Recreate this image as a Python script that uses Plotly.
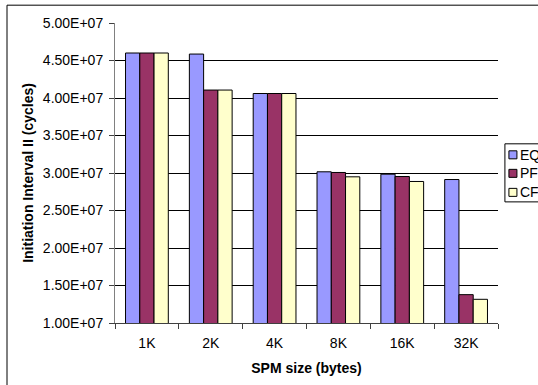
import plotly.graph_objects as go

categories = ["1K", "2K", "4K", "8K", "16K", "32K"]
eq_values = [4.60e7, 4.586e7, 4.06e7, 3.016e7, 2.984e7, 2.913e7]
pf_values = [4.60e7, 4.106e7, 4.06e7, 3.007e7, 2.953e7, 1.378e7]
cf_values = [4.60e7, 4.106e7, 4.06e7, 2.949e7, 2.887e7, 1.316e7]
series_names = ["EQ", "PF", "CF"]
y_ticks = [1.0e7, 1.5e7, 2.0e7, 2.5e7, 3.0e7, 3.5e7, 4.0e7, 4.5e7, 5.0e7]
y_tick_labels = ["1.00E+07", "1.50E+07", "2.00E+07", "2.50E+07", "3.00E+07",
                 "3.50E+07", "4.00E+07", "4.50E+07", "5.00E+07"]

colors = ["#9999FF", "#993366", "#FFFFCC"]
FONT = "Liberation Sans, Arial, sans-serif"
FS = 14

fig = go.Figure()
for name, vals, col in zip(series_names, [eq_values, pf_values, cf_values], colors):
    fig.add_trace(go.Bar(
        x=categories, y=vals, name=name,
        marker=dict(color=col, line=dict(color="#000000", width=1)),
    ))

W, H = 538, 385
ml, mr, mt, mb = 115.3, 40.4, 23.3, 62
pw = W - ml - mr
ph = H - mt - mb

def px_x(px):
    return (px - ml) / pw

def px_y(py):
    return (H - mb - py) / ph

shapes = [dict(
    type="rect", xref="paper", yref="paper",
    x0=px_x(7.5), x1=px_x(560), y0=px_y(386), y1=px_y(5.5),
    line=dict(color="#000000", width=1), fillcolor="rgba(0,0,0,0)", layer="above",
)]
# legend box
shapes.append(dict(
    type="rect", xref="paper", yref="paper",
    x0=px_x(504.5), x1=px_x(560), y0=px_y(202), y1=px_y(144),
    line=dict(color="#000000", width=1), fillcolor="white", layer="above",
))
annotations = []
row_centers = [155, 173.5, 192.5]
for name, col, cy in zip(series_names, colors, row_centers):
    shapes.append(dict(
        type="rect", xref="paper", yref="paper",
        x0=px_x(508.5), x1=px_x(516.5), y0=px_y(cy + 4), y1=px_y(cy - 4),
        line=dict(color="#000000", width=1), fillcolor=col, layer="above",
    ))
    annotations.append(dict(
        x=px_x(517.5), y=px_y(cy), xref="paper", yref="paper",
        xanchor="left", yanchor="middle", showarrow=False,
        text=name, font=dict(family=FONT, size=FS, color="#000000"),
    ))

fig.update_layout(
    width=W, height=H,
    margin=dict(l=ml, r=mr, t=mt, b=mb, pad=0, autoexpand=False),
    paper_bgcolor="white", plot_bgcolor="white",
    barmode="group", bargap=0.33, bargroupgap=0,
    font=dict(family=FONT, size=FS, color="#000000"),
    showlegend=False,
    xaxis=dict(
        showgrid=False, showline=True, linecolor="#404040", linewidth=1,
        ticks="outside", ticklen=5, tickcolor="#404040",
        tickson="boundaries", ticklabelstandoff=7,
        title=dict(text="<b>SPM size (bytes)</b>", font=dict(size=FS), standoff=13),
        tickfont=dict(size=FS),
    ),
    yaxis=dict(
        range=[1.0e7, 5.0e7], tickvals=y_ticks, ticktext=y_tick_labels,
        showgrid=True, gridcolor="#000000", gridwidth=1,
        showline=True, linecolor="#808080", linewidth=1,
        ticks="outside", ticklen=5, tickcolor="#404040",
        ticklabelstandoff=3,
        title=dict(text="<b>Initiation Interval II (cycles)</b>", font=dict(size=FS), standoff=5),
        tickfont=dict(size=FS),
        zeroline=False,
    ),
    shapes=shapes,
    annotations=annotations,
)

fig.write_html(
    "out.html",
    config={"displayModeBar": False},
    post_script="document.body.style.margin='0';document.body.style.padding='0';",
)
